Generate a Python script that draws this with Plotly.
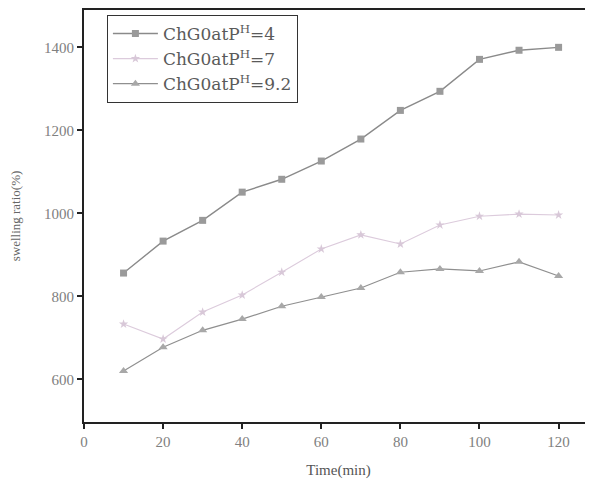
import plotly.graph_objects as go

time_min = [10, 20, 30, 40, 50, 60, 70, 80, 90, 100, 110, 120]
ph4 = [856, 933, 983, 1051, 1082, 1126, 1179, 1248, 1294, 1371, 1393, 1400]
ph7 = [733, 697, 762, 803, 858, 914, 948, 926, 972, 993, 998, 996]
ph92 = [620, 677, 718, 745, 776, 798, 820, 858, 866, 861, 883, 849]
names = ["ChG0atP<sup>H</sup>=4", "ChG0atP<sup>H</sup>=7", "ChG0atP<sup>H</sup>=9.2"]
x_ticks = [0, 20, 40, 60, 80, 100, 120]
y_ticks = [600, 800, 1000, 1200, 1400]

fig = go.Figure()
fig.add_trace(go.Scatter(x=time_min, y=ph4, name=names[0], mode="lines+markers",
                         line=dict(color="#8a8a8a", width=1.4),
                         marker=dict(symbol="square", size=7, color="#9a9a9a")))
fig.add_trace(go.Scatter(x=time_min, y=ph7, name=names[1], mode="lines+markers",
                         line=dict(color="#dccbdc", width=1.1),
                         marker=dict(symbol="star", size=7, color="#d8c8d8")))
fig.add_trace(go.Scatter(x=time_min, y=ph92, name=names[2], mode="lines+markers",
                         line=dict(color="#8f8f8f", width=1.2),
                         marker=dict(symbol="triangle-up", size=8, color="#a8a8a8")))

axis_font = dict(family="Liberation Serif", size=15, color="#808080")
fig.update_layout(
    width=585, height=478,
    margin=dict(l=76, r=0, t=2, b=64),
    paper_bgcolor="white", plot_bgcolor="white",
    showlegend=True,
    legend=dict(x=0.045, y=0.988, xanchor="left", yanchor="top",
                bordercolor="#333333", borderwidth=1, bgcolor="white",
                font=dict(family="DejaVu Serif", size=17, color="#5a5a5a"),
                itemwidth=45, tracegroupgap=0),
    xaxis=dict(range=[0, 128.7], tickvals=x_ticks, ticks="outside", ticklen=5,
               tickwidth=2, tickcolor="#222222", showline=True, linecolor="#222222",
               linewidth=2, mirror=True, showgrid=False, zeroline=False,
               tickfont=axis_font, automargin=False,
               title=dict(text="Time(min)", font=dict(family="Liberation Serif", size=15, color="#555555"), standoff=15)),
    yaxis=dict(range=[497, 1490], tickvals=y_ticks, ticks="outside", ticklen=5,
               tickwidth=2, tickcolor="#222222", showline=True, linecolor="#222222",
               linewidth=2, showgrid=False, zeroline=False,
               tickfont=axis_font, automargin=False,
               title=dict(text="swelling ratio(%)", font=dict(family="Liberation Serif", size=13, color="#666666"), standoff=22)),
)

fig.write_html("out.html")
